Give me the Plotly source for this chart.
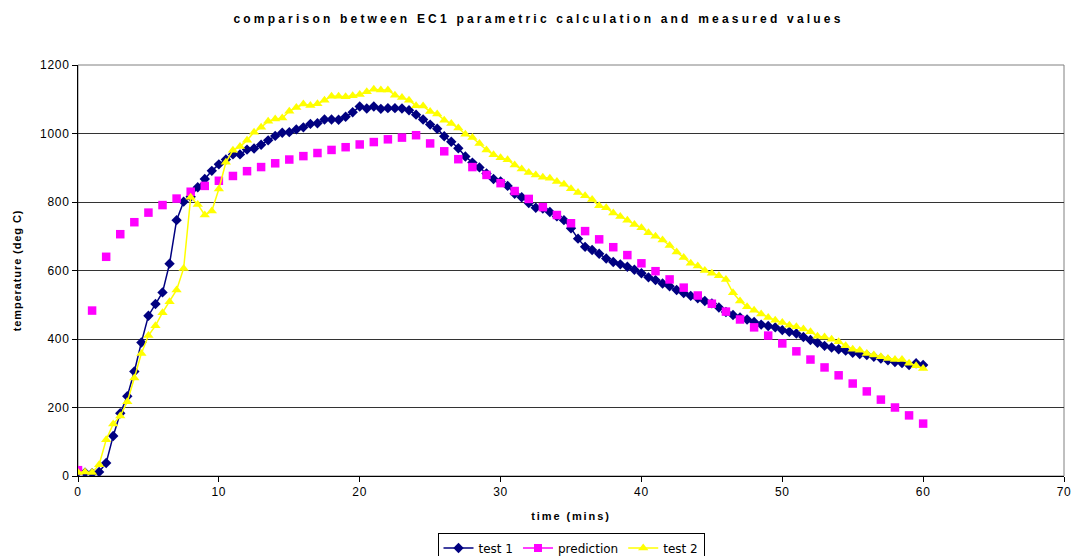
import plotly.graph_objects as go

time_test = [0, 0.5, 1, 1.5, 2, 2.5, 3, 3.5, 4, 4.5, 5, 5.5, 6, 6.5, 7, 7.5, 8, 8.5, 9, 9.5,
             10, 10.5, 11, 11.5, 12, 12.5, 13, 13.5, 14, 14.5, 15, 15.5, 16, 16.5, 17, 17.5, 18, 18.5, 19, 19.5,
             20, 20.5, 21, 21.5, 22, 22.5, 23, 23.5, 24, 24.5, 25, 25.5, 26, 26.5, 27, 27.5, 28, 28.5, 29, 29.5,
             30, 30.5, 31, 31.5, 32, 32.5, 33, 33.5, 34, 34.5, 35, 35.5, 36, 36.5, 37, 37.5, 38, 38.5, 39, 39.5,
             40, 40.5, 41, 41.5, 42, 42.5, 43, 43.5, 44, 44.5, 45, 45.5, 46, 46.5, 47, 47.5, 48, 48.5, 49, 49.5,
             50, 50.5, 51, 51.5, 52, 52.5, 53, 53.5, 54, 54.5, 55, 55.5, 56, 56.5, 57, 57.5, 58, 58.5, 59, 59.5,
             60]

test1 = [12, 10, 8, 12, 38, 117, 183, 233, 305, 390, 468, 502, 536, 620, 747, 801, 815, 843, 867, 891,
         910, 924, 939, 939, 953, 956, 967, 980, 993, 1002, 1004, 1012, 1018, 1028, 1030, 1041, 1041, 1040, 1049, 1062,
         1079, 1073, 1079, 1072, 1074, 1074, 1073, 1068, 1055, 1041, 1026, 1014, 992, 976, 957, 933, 915, 901, 883, 867,
         860, 847, 824, 814, 797, 783, 781, 771, 758, 747, 723, 693, 669, 660, 649, 635, 625, 618, 611, 602,
         592, 580, 572, 562, 554, 543, 534, 526, 519, 511, 504, 492, 479, 470, 463, 457, 450, 442, 438, 434,
         426, 421, 416, 406, 397, 389, 380, 375, 370, 366, 360, 356, 353, 348, 343, 338, 333, 330, 324, 329,
         324]

test2 = [10, 12, 10, 33, 106, 152, 175, 217, 286, 358, 410, 439, 477, 509, 543, 606, 814, 793, 762, 774,
         838, 916, 951, 962, 980, 1004, 1018, 1036, 1042, 1045, 1065, 1076, 1086, 1082, 1087, 1097, 1109, 1109, 1107, 1110,
         1114, 1122, 1129, 1127, 1127, 1112, 1105, 1097, 1081, 1080, 1064, 1057, 1039, 1029, 1016, 998, 988, 971, 952, 938,
         929, 923, 908, 896, 886, 879, 872, 869, 860, 852, 839, 828, 818, 807, 789, 783, 768, 758, 747, 734,
         725, 710, 700, 689, 673, 654, 638, 621, 613, 600, 592, 585, 574, 535, 511, 494, 484, 473, 463, 455,
         448, 440, 436, 429, 421, 408, 406, 399, 392, 380, 370, 367, 358, 353, 348, 343, 340, 340, 329, 322,
         314]

time_pred = [0, 1, 2, 3, 4, 5, 6, 7, 8, 9, 10, 11, 12, 13, 14, 15, 16, 17, 18, 19,
             20, 21, 22, 23, 24, 25, 26, 27, 28, 29, 30, 31, 32, 33, 34, 35, 36, 37, 38, 39,
             40, 41, 42, 43, 44, 45, 46, 47, 48, 49, 50, 51, 52, 53, 54, 55, 56, 57, 58, 59, 60]

prediction = [17, 483, 640, 706, 741, 769, 791, 810, 830, 847, 862, 876, 890, 902, 913, 924, 934, 943, 952, 960,
              968, 975, 983, 988, 995, 971, 948, 925, 902, 879, 855, 832, 809, 785, 762, 738, 715, 691, 668, 645,
              621, 598, 574, 550, 527, 503, 480, 457, 434, 410, 387, 364, 340, 317, 294, 270, 247, 223, 200, 177, 153]

x_ticks = [0, 10, 20, 30, 40, 50, 60, 70]
y_ticks = [0, 200, 400, 600, 800, 1000, 1200]

FONT = "Liberation Sans, Arial, sans-serif"
LEG_FONT = "DejaVu Sans"

NAVY = "#000080"
MAGENTA = "#FF00FF"
YELLOW = "#FFFF00"

fig = go.Figure()
fig.add_trace(go.Scatter(
    x=time_test, y=test1, name="test 1", mode="lines+markers", legendrank=1,
    line=dict(color=NAVY, width=1.5),
    marker=dict(symbol="diamond", size=8, color=NAVY),
))
fig.add_trace(go.Scatter(
    x=time_pred, y=prediction, name="prediction", mode="markers", showlegend=False,
    marker=dict(symbol="square", size=8.5, color=MAGENTA),
))
# legend entry for prediction (line + marker sample, as in the original legend)
fig.add_trace(go.Scatter(
    x=[None], y=[None], name="prediction", mode="lines+markers", legendrank=2,
    line=dict(color=MAGENTA, width=1.5),
    marker=dict(symbol="square", size=8, color=MAGENTA),
))
fig.add_trace(go.Scatter(
    x=time_test, y=test2, name="test 2", mode="lines+markers", legendrank=3,
    line=dict(color=YELLOW, width=1.5),
    marker=dict(symbol="triangle-up", size=9, color=YELLOW),
))

fig.update_layout(
    width=1077, height=556,
    margin=dict(l=78, r=13, t=65, b=80, autoexpand=False),
    paper_bgcolor="white", plot_bgcolor="white",
    font=dict(family=FONT, size=12, color="black"),
    title=dict(
        text="<b>comparison between EC1 parametric calculation and measured values</b>",
        x=0.5, xanchor="center", xref="container",
        y=1 - 19 / 556, yanchor="middle", yref="container",
        font=dict(family=FONT, size=12, color="black"),
    ),
    showlegend=True,
    legend=dict(
        orientation="h", x=0.5, xanchor="center", y=-0.1375, yanchor="top",
        bordercolor="black", borderwidth=1, bgcolor="white",
        font=dict(family=LEG_FONT, size=12, color="black"),
        itemwidth=30, tracegroupgap=0,
    ),
    shapes=[dict(type="rect", xref="paper", yref="paper", x0=0, x1=1, y0=0, y1=1,
                 line=dict(color="#808080", width=1), layer="below")],
)

fig.update_xaxes(
    range=[0, 70], tickvals=x_ticks, ticktext=[str(v) for v in x_ticks],
    showgrid=False, zeroline=False,
    showline=True, linecolor="black", linewidth=1,
    ticks="outside", ticklen=5, tickcolor="black",
    tickfont=dict(family=FONT, size=12, color="black"),
    title=dict(text="<b>time (mins)</b>", font=dict(family=FONT, size=11, color="black"), standoff=13),
)
fig.update_yaxes(
    range=[0, 1200], tickvals=y_ticks, ticktext=[str(v) for v in y_ticks],
    showgrid=True, gridcolor="#333333", gridwidth=1, zeroline=False,
    showline=True, linecolor="black", linewidth=1,
    ticks="outside", ticklen=5, tickcolor="black",
    tickfont=dict(family=FONT, size=12, color="black"),
    title=dict(text="<b>temperature (deg C)</b>", font=dict(family=FONT, size=11, color="black"), standoff=19),
)

post = """
document.body.style.margin='0';
document.querySelectorAll('.gtitle').forEach(function(e){e.style.letterSpacing='3.2px';});
document.querySelectorAll('.xtitle').forEach(function(e){e.style.letterSpacing='1.9px';});
document.querySelectorAll('.ytitle').forEach(function(e){e.style.letterSpacing='0.9px';});
document.querySelectorAll('.xtick text, .ytick text').forEach(function(e){e.style.letterSpacing='0.7px';});
"""

fig.write_html("out.html", config={"displayModeBar": False}, post_script=post)
